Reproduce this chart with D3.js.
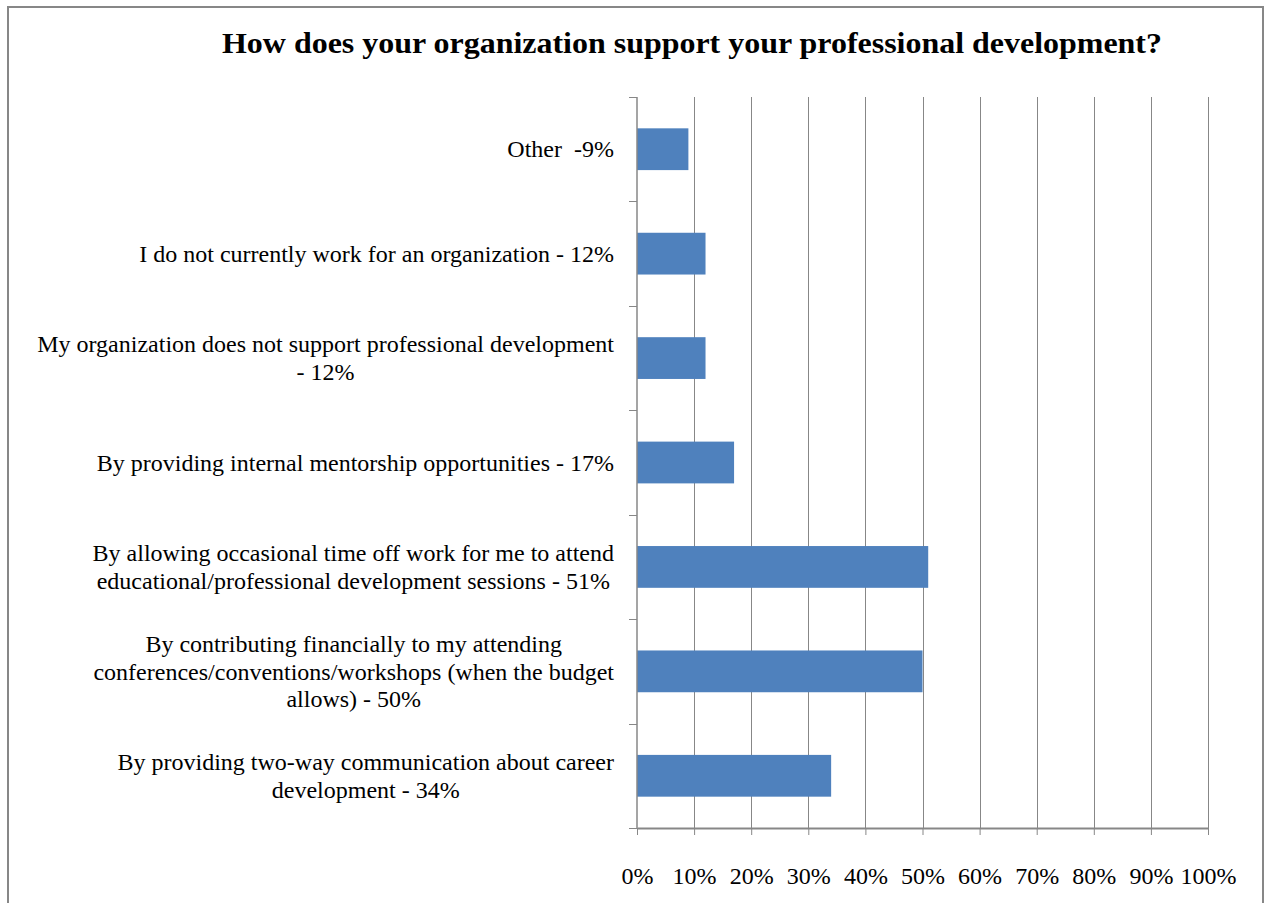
<!DOCTYPE html>
<html>
<head>
<meta charset="utf-8">
<script src="https://cdn.jsdelivr.net/npm/d3@7"></script>
<style>
  html, body { margin: 0; padding: 0; background: #fff; }
  svg { display: block; }
  text { font-family: "Liberation Serif", "Times New Roman", serif; fill: #000; }
</style>
</head>
<body>
<script>
// Survey responses, listed top to bottom as they appear on the chart
const categories = [
  "Other  -9%",
  "I do not currently work for an organization - 12%",
  "My organization does not support professional development\n- 12%",
  "By providing internal mentorship opportunities - 17%",
  "By allowing occasional time off work for me to attend\neducational/professional development sessions - 51%",
  "By contributing financially to my attending\nconferences/conventions/workshops (when the budget\nallows) - 50%",
  "By providing two-way communication about career\ndevelopment - 34%"
];
const values = [9, 12, 12, 17, 51, 50, 34];
const tickValues = [0, 10, 20, 30, 40, 50, 60, 70, 80, 90, 100];
const tickLabels = ["0%", "10%", "20%", "30%", "40%", "50%", "60%", "70%", "80%", "90%", "100%"];
const title = "How does your organization support your professional development?";

const W = 1265, H = 903;
const plot = { left: 637, right: 1208, top: 97, bottom: 828 };
const gridColor = "#878787";
const barColor = "#4f81bd";

const svg = d3.select("body").append("svg")
  .attr("width", W).attr("height", H);

// chart frame
svg.append("rect")
  .attr("x", 8).attr("y", 7)
  .attr("width", 1255).attr("height", 940)
  .attr("fill", "#fff")
  .attr("stroke", gridColor).attr("stroke-width", 2);

const x = d3.scaleLinear().domain([0, 100]).range([plot.left, plot.right]);
const y = d3.scaleBand().domain(categories)
  .range([plot.top, plot.bottom])
  .paddingInner(0.6).paddingOuter(0.3);

// vertical gridlines
svg.append("g")
  .selectAll("line")
  .data(tickValues.slice(1))
  .join("line")
  .attr("x1", d => Math.round(x(d)) + 0.5).attr("x2", d => Math.round(x(d)) + 0.5)
  .attr("y1", plot.top).attr("y2", plot.bottom)
  .attr("stroke", gridColor).attr("stroke-width", 1);

// bars
svg.append("g")
  .selectAll("rect")
  .data(values)
  .join("rect")
  .attr("x", x(0))
  .attr("y", (d, i) => y(categories[i]))
  .attr("width", d => x(d) - x(0))
  .attr("height", y.bandwidth())
  .attr("fill", barColor);

// x axis
const xAxis = svg.append("g")
  .attr("transform", `translate(0,${plot.bottom})`)
  .call(d3.axisBottom(x)
    .tickValues(tickValues)
    .tickFormat((d, i) => tickLabels[i])
    .tickSize(7)
    .tickSizeOuter(0)
    .tickPadding(32));
xAxis.select(".domain").attr("stroke", gridColor).attr("stroke-width", 2);
xAxis.selectAll(".tick line").attr("stroke", gridColor);
xAxis.selectAll(".tick text")
  .style("font-family", "'Liberation Serif', serif")
  .style("font-size", "24px")
  .attr("fill", "#000");

// y axis: line plus ticks at band boundaries
const bounds = d3.range(categories.length + 1)
  .map(i => plot.top + i * y.step());
svg.append("line")
  .attr("x1", plot.left).attr("x2", plot.left)
  .attr("y1", plot.top).attr("y2", plot.bottom)
  .attr("stroke", gridColor).attr("stroke-width", 1.5);
svg.append("g")
  .selectAll("line")
  .data(bounds)
  .join("line")
  .attr("x1", plot.left - 8).attr("x2", plot.left)
  .attr("y1", d => Math.round(d) + 0.5).attr("y2", d => Math.round(d) + 0.5)
  .attr("stroke", gridColor).attr("stroke-width", 1);

// category labels: lines centred on each other, block right-aligned to the axis
const fontSize = 24, lineH = fontSize * 1.15, labelRight = plot.left - 23;
categories.forEach((c, i) => {
  const lines = c.split("\n");
  const cy = y(c) + y.bandwidth() / 2;
  const g = svg.append("g");
  const texts = g.selectAll("text")
    .data(lines)
    .join("text")
    .attr("text-anchor", "middle")
    .attr("x", 0)
    .attr("y", (d, j) => cy + (j - (lines.length - 1) / 2) * lineH)
    .attr("dy", "0.34em")
    .style("font-size", fontSize + "px")
    .style("white-space", "pre")
    .text(d => d);
  const maxW = d3.max(texts.nodes(), n => n.getComputedTextLength());
  g.attr("transform", `translate(${labelRight - maxW / 2},0)`);
});

// title, stretched slightly to the frame's title width
svg.append("text")
  .attr("x", 692).attr("y", 53)
  .attr("text-anchor", "middle")
  .attr("textLength", 940)
  .attr("lengthAdjust", "spacingAndGlyphs")
  .style("font-size", "30px")
  .style("font-weight", "bold")
  .text(title);
</script>
</body>
</html>
